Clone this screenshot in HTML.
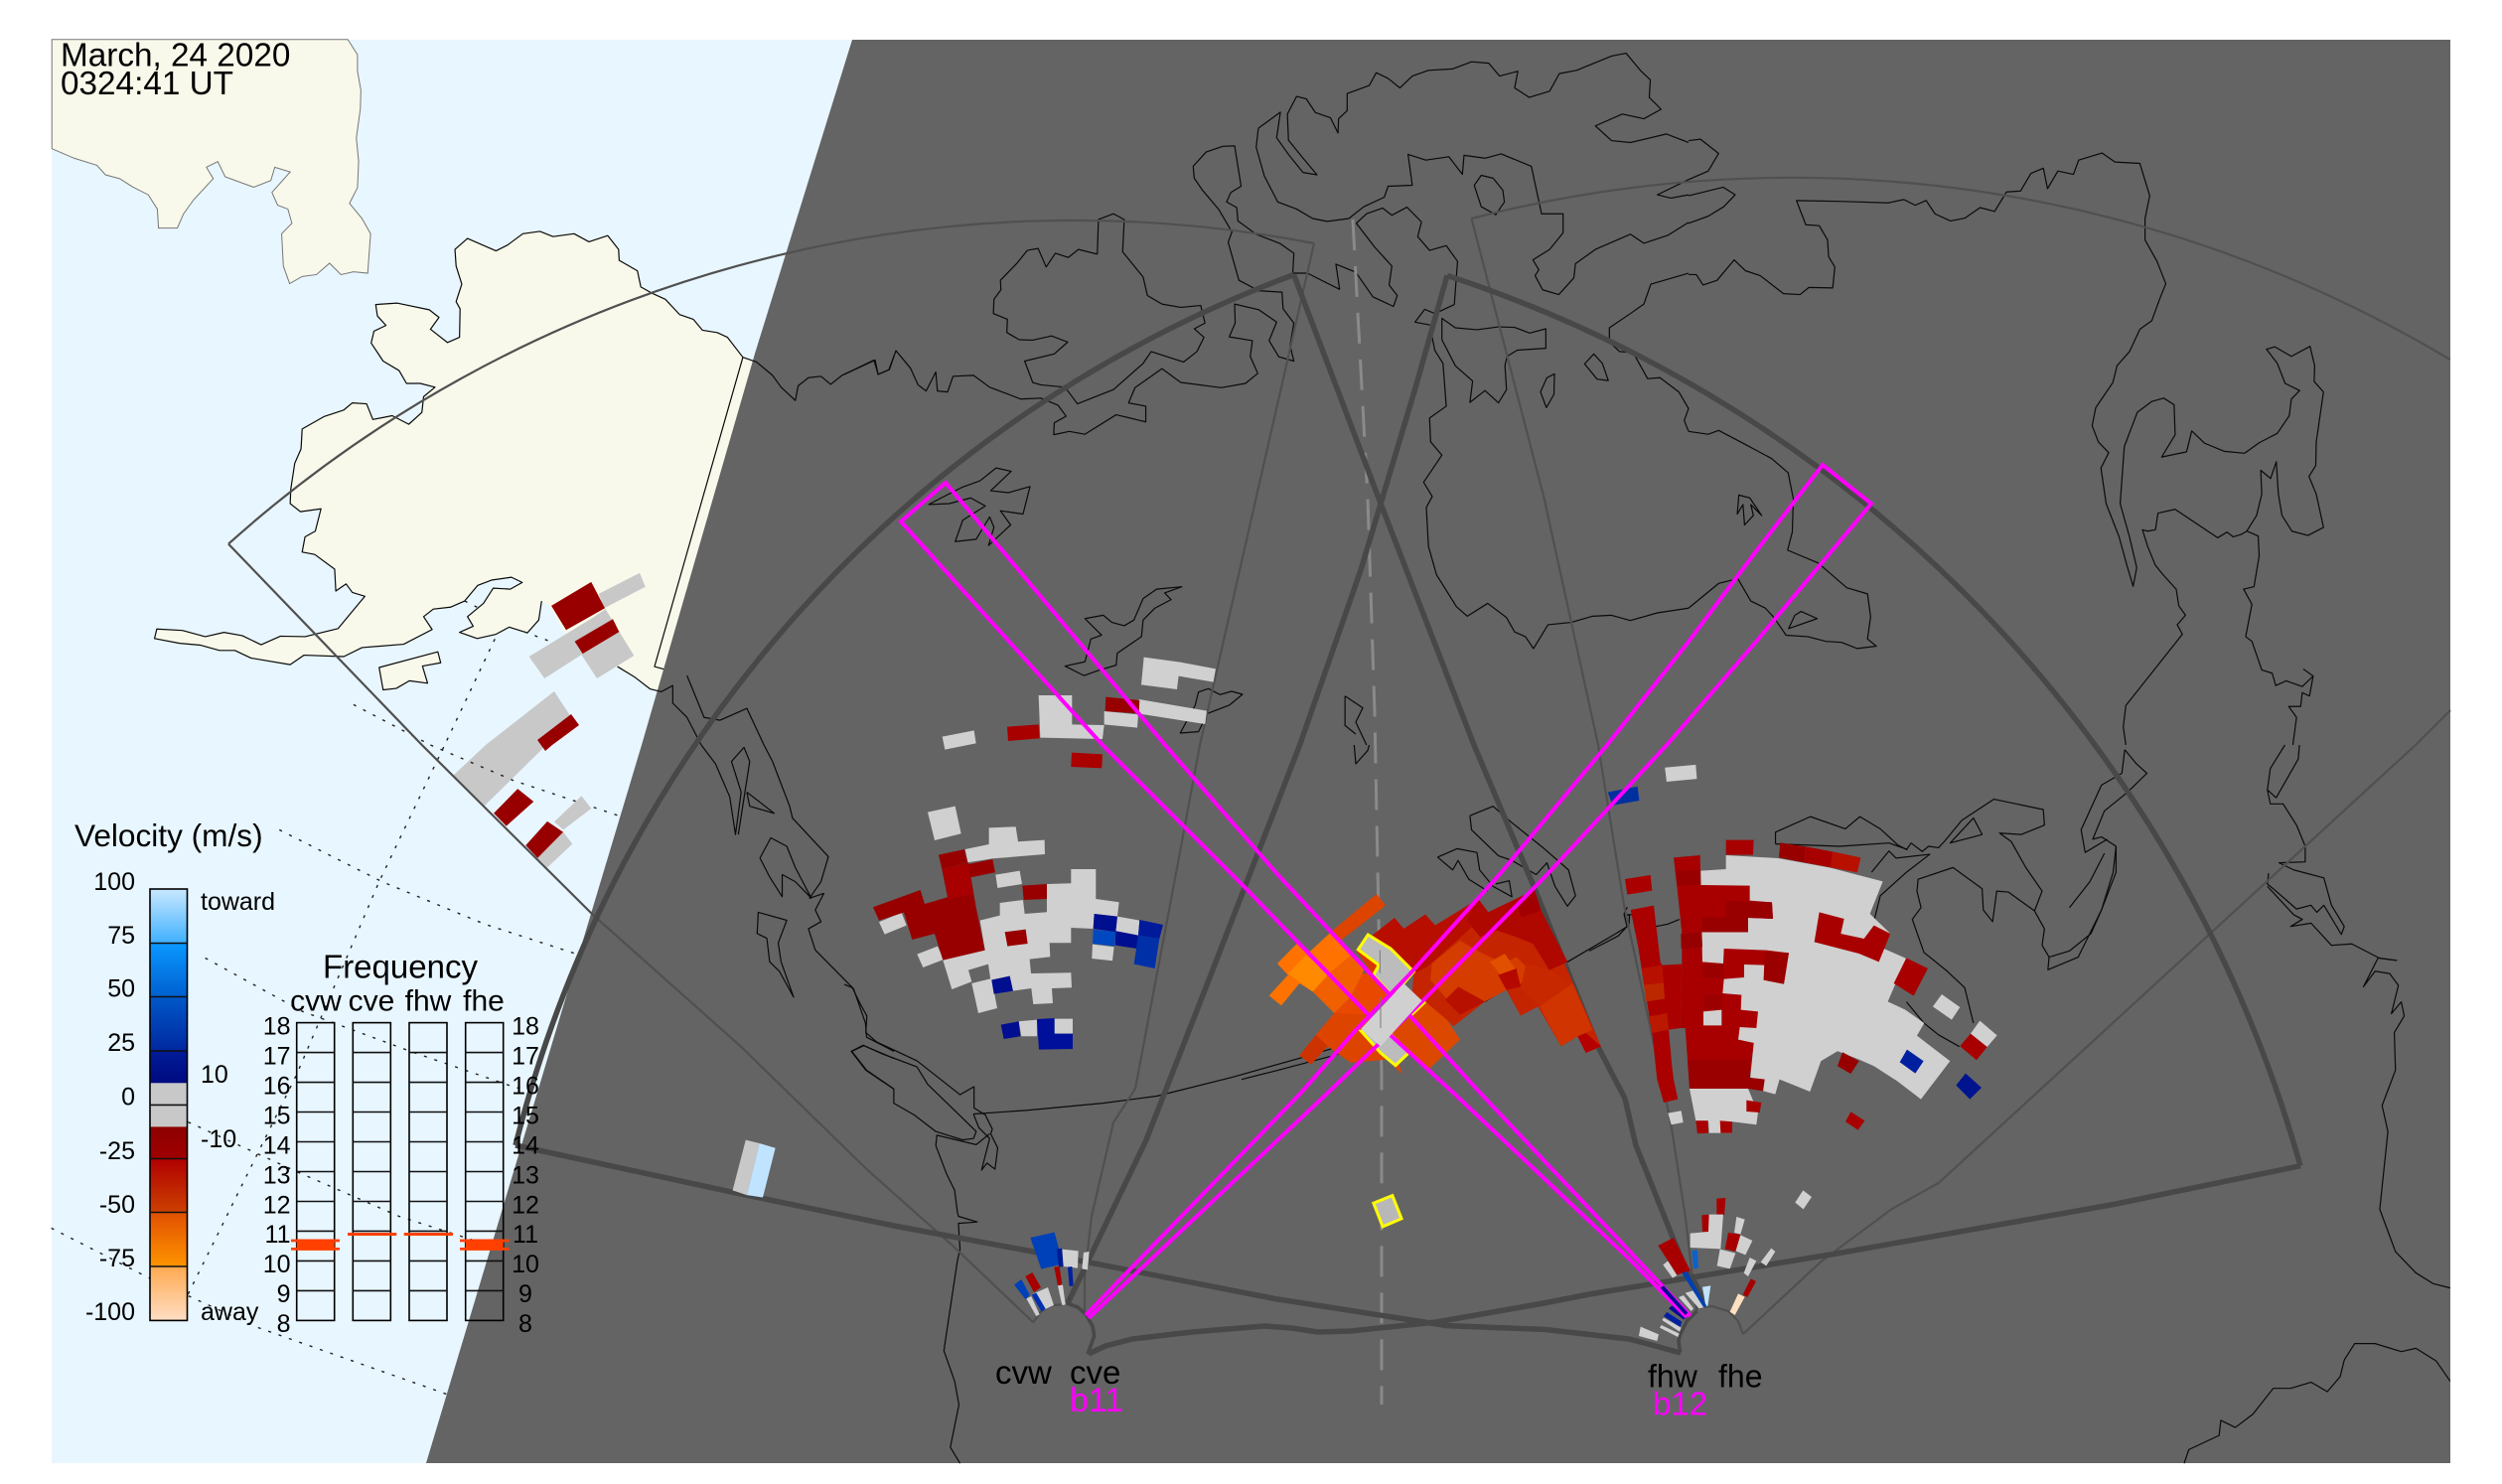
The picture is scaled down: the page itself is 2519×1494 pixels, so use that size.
<!DOCTYPE html>
<html><head><meta charset="utf-8"><style>
html,body{margin:0;padding:0;background:#fff}
svg{display:block}
text{font-family:"Liberation Sans",sans-serif;fill:#000}
.c{fill:none;stroke:#0a0a0a;stroke-width:1.2;stroke-linejoin:round;vector-effect:non-scaling-stroke}
.k{fill:none;stroke:#484848;stroke-width:5.5;stroke-linejoin:round;vector-effect:non-scaling-stroke}
.t{fill:none;stroke:#505050;stroke-width:2.2;stroke-linejoin:round;vector-effect:non-scaling-stroke}
.d{fill:none;stroke:#222;stroke-width:1.4;stroke-dasharray:3 8;vector-effect:non-scaling-stroke}
.m{fill:none;stroke:#ff00ff;stroke-width:4;stroke-linejoin:miter}
.y{stroke:#ffff00;stroke-width:3;vector-effect:non-scaling-stroke;stroke-linejoin:miter}
.tk{stroke:#111;stroke-width:1.6}
.b{fill:none;stroke:#000;stroke-width:1.6}
.w{fill:#d0d0d0}.g{fill:#c8c8c8}.r{fill:#a80000}.rd{fill:#980000}.n{fill:#000e90}.u{fill:#0030a8}
</style></head><body>
<svg width="2519" height="1494" viewBox="0 0 2519 1494" xmlns="http://www.w3.org/2000/svg">
<defs>
<linearGradient id="g1" x1="0" y1="0" x2="0" y2="1"><stop offset="0" stop-color="#c8e8ff"/><stop offset="1" stop-color="#40b0ff"/></linearGradient>
<linearGradient id="g2" x1="0" y1="0" x2="0" y2="1"><stop offset="0" stop-color="#0a98ff"/><stop offset="1" stop-color="#0060d0"/></linearGradient>
<linearGradient id="g3" x1="0" y1="0" x2="0" y2="1"><stop offset="0" stop-color="#0058c8"/><stop offset="1" stop-color="#0028a0"/></linearGradient>
<linearGradient id="g4" x1="0" y1="0" x2="0" y2="1"><stop offset="0" stop-color="#001c98"/><stop offset="1" stop-color="#000a80"/></linearGradient>
<linearGradient id="g5" x1="0" y1="0" x2="0" y2="1"><stop offset="0" stop-color="#8c0000"/><stop offset="1" stop-color="#a00000"/></linearGradient>
<linearGradient id="g6" x1="0" y1="0" x2="0" y2="1"><stop offset="0" stop-color="#b00000"/><stop offset="1" stop-color="#cc4000"/></linearGradient>
<linearGradient id="g7" x1="0" y1="0" x2="0" y2="1"><stop offset="0" stop-color="#e05000"/><stop offset="1" stop-color="#ff9400"/></linearGradient>
<linearGradient id="g8" x1="0" y1="0" x2="0" y2="1"><stop offset="0" stop-color="#ffa850"/><stop offset="1" stop-color="#ffdfc4"/></linearGradient>
</defs>
<rect x="52" y="40" width="2415" height="1433" fill="#e8f6ff"/>

<!-- day-side land and cells -->
<g transform="translate(0 0) scale(.574 .4783)">
<polygon fill="#f8f9ea" stroke="#777" stroke-width="1" vector-effect="non-scaling-stroke" points="91,83 610,83 627,115 627,150 633,190 632,230 625,290 629,340 627,395 613,428 635,460 650,492 645,575 620,572 598,578 578,554 555,578 530,582 508,597 497,560 494,492 512,470 505,440 487,432 477,405 509,362 482,352 475,380 445,394 395,372 382,340 362,352 374,376 340,420 322,450 311,480 278,480 276,440 260,410 232,393 210,376 185,368 170,348 130,333 91,313"/>
<polygon fill="#f8f9ea" points="820,502 870,528 890,516 917,492 947,487 970,498 1007,492 1033,509 1066,496 1085,525 1086,548 1118,570 1124,604 1145,618 1167,630 1192,662 1216,672 1232,695 1258,700 1276,710 1303,752 1340,765 1180,1460 1160,1456 1140,1450 1113,1425 1083,1403 1050,1390 1020,1375 990,1330 965,1278 950,1265 945,1305 925,1332 893,1320 870,1335 837,1344 806,1331 830,1318 820,1298 848,1270 865,1238 895,1240 916,1226 897,1215 862,1221 838,1232 815,1265 790,1278 760,1282 743,1298 758,1325 708,1356 635,1363 603,1382 533,1379 509,1399 440,1385 412,1369 385,1369 352,1358 315,1354 271,1344 275,1324 320,1327 360,1340 393,1331 425,1338 458,1357 492,1339 535,1340 593,1323 640,1255 618,1247 607,1229 589,1244 587,1198 552,1167 530,1162 535,1130 553,1118 563,1071 527,1077 509,1060 510,1030 517,975 528,945 530,903 568,877 603,863 618,848 643,850 654,883 688,875 717,893 740,868 743,835 763,815 737,807 713,807 700,780 672,760 651,722 656,697 677,685 662,665 659,641 697,638 753,652 770,668 755,693 785,721 806,710 807,650 800,635 810,598 800,560 798,525"/>
<polyline class="c" points="950,1265 945,1305 925,1332 893,1320 870,1335 837,1344 806,1331 830,1318 820,1298 848,1270 865,1238 895,1240 916,1226 897,1215 862,1221 838,1232 815,1265 790,1278 760,1282 743,1298 758,1325 708,1356 635,1363 603,1382 533,1379 509,1399 440,1385 412,1369 385,1369 352,1358 315,1354 271,1344 275,1324 320,1327 360,1340 393,1331 425,1338 458,1357 492,1339 535,1340 593,1323 640,1255 618,1247 607,1229 589,1244 587,1198 552,1167 530,1162 535,1130 553,1118 563,1071 527,1077 509,1060 510,1030 517,975 528,945 530,903 568,877 603,863 618,848 643,850 654,883 688,875 717,893 740,868 743,835 763,815 737,807 713,807 700,780 672,760 651,722 656,697 677,685 662,665 659,641 697,638 753,652 770,668 755,693 785,721 806,710 807,650 800,635 810,598 800,560 798,525 820,502 870,528 890,516 917,492 947,487 970,498 1007,492 1033,509 1066,496 1085,525 1086,548 1118,570 1124,604 1145,618 1167,630 1192,662 1216,672 1232,695 1258,700 1276,710 1303,752 1148,1403 1205,1422"/>
<polygon class="c" style="fill:#f8f9ea" points="665,1405 768,1372 773,1395 741,1402 750,1438 718,1433 695,1449 672,1452"/>
<polyline class="d" points="868,1345 780,1568"/>
<polyline class="d" points="620,1483 755,1568"/>
<polyline class="d" points="815,1265 840,1280"/>
<polyline class="d" points="920,1330 965,1350"/>
<polyline class="d" points="1325,745 1330,735"/>
<polygon class="g" points="1050,1250 1122,1206 1132,1235 1060,1280"/>
<polygon class="g" points="928,1382 1040,1300 1062,1282 1112,1380 1047,1428 1020,1378 955,1428"/>
<polygon class="rd" points="967,1275 1037,1225 1061,1280 993,1326"/>
<polygon class="rd" points="1008,1350 1075,1303 1086,1330 1022,1376"/>
</g>
<polygon class="g" points="558,696 489,750 456,781 488,811 545,755 575,722"/>
<polygon class="rd" points="575,719 583,730 556,750 549,756 541,745"/>
<g transform="translate(0 750) scale(.574 .4745)">
<polyline class="d" points="490,180 670,290 850,380 1010,443"/>
<polyline class="d" points="360,452 530,565 720,650 900,725 960,745"/>
<polyline class="d" points="330,800 520,905 700,1000 880,1070"/>
<polyline class="d" points="90,1025 260,1130 450,1235 785,1378"/>
<polyline class="d" points="330,1165 520,700 665,290 760,50 780,0"/>
<polyline class="d" points="755,0 900,75 1085,150"/>
<polygon class="rd" points="908,93 936,120 888,172 866,145"/>
<polygon class="g" points="1020,108 1037,135 988,180 972,163"/>
<polygon class="rd" points="960,162 988,185 943,240 922,213"/>
<polygon class="g" points="988,185 1004,210 960,260 943,240"/>
</g>

<!-- night -->
<polygon fill="#646464" points="858,40 2467,40 2467,1473 429,1473 646,750 760,356"/>

<!-- coast lines on night side -->
<g transform="translate(0 0) scale(.574 .4783)">
<polyline class="c" points="1303,752 1327,762 1355,790 1370,815 1395,843 1400,812 1418,795 1440,792 1457,809 1477,790 1535,758 1540,788 1560,778 1568,750"/>
<polyline class="c" points="1083,1403 1113,1425 1140,1450 1160,1456 1180,1443 1180,1480 1205,1510 1230,1568"/>
<polyline class="c" points="1205,1422 1235,1510 1263,1516 1310,1491 1340,1568"/>
</g>
<g transform="translate(0 750) scale(.574 .4745)">
<polyline class="c" points="1230,0 1255,40 1280,110 1290,190 1300,100 1283,35 1305,5 1315,35 1295,190"/>
<polyline class="c" points="1340,0 1355,35 1385,130 1390,155 1453,237 1440,290 1420,325 1445,315 1430,350 1440,375 1418,390 1430,435 1497,517 1518,590 1520,620 1568,650"/>
<polyline class="c" points="1310,100 1358,145 1315,130 1310,100"/>
<polygon class="c" points="1352,197 1380,215 1395,260 1423,325 1395,290 1372,275 1372,322 1350,280 1333,240"/>
<polygon class="c" points="1330,355 1380,372 1365,420 1370,460 1392,535 1367,480 1350,460 1345,410 1328,400"/>
<polyline class="c" points="1568,665 1515,638 1494,650 1520,690 1568,730"/>
</g>
<g transform="translate(850 0) scale(.5421 .4783)">
<polyline class="c" points="0,788 55,758 63,788 83,778 96,738 123,775 137,810 152,823 170,783 173,823 192,825 202,792 240,790 270,815 328,840 365,838 397,853 412,876 390,890 389,915 418,908 447,914 505,873 560,888 560,855 528,848 540,816 590,776 625,805 700,816 745,807 768,786 754,750 758,717 715,709 726,680 725,640 770,652 803,678 789,717 807,751 835,760 828,727 835,680 815,650 813,615 770,612 733,590 713,510 720,488 695,440 665,400 650,375 648,350 672,320 703,308 725,307 737,392 718,405 710,425 729,437 731,465 765,493 810,513 835,533 833,575 860,575 920,609 913,556 950,573 982,625 1020,645 1027,622 1012,600 1017,560 985,520 951,470 970,450 1000,438 1017,453 1045,436 1072,467 1065,498 1087,527 1118,517 1139,550 1133,641 1097,660 1090,700 1097,738 1112,765 1118,855 1087,880 1089,930 1110,958 1076,1015 1092,1045 1081,1068 1085,1150 1100,1210 1137,1277 1157,1297 1195,1270 1230,1300 1245,1330 1265,1340 1280,1365 1307,1315 1350,1310 1390,1297 1425,1295 1460,1306 1510,1290 1568,1280"/>
<polyline class="c" points="470,535 472,462 500,450 520,462 517,530 555,583 563,622 590,640 625,647 662,643 670,680 650,692 668,710 655,740 630,762 570,740 555,765 500,820 433,850 410,815 365,810 350,805 335,760 390,745 415,720 385,707 350,716 325,715 302,700 303,672 277,660 278,630 291,610 290,590 320,555 340,527 360,523 375,562 392,533 416,542 435,525 470,535"/>
<polyline class="c" points="769,270 810,236 803,290 825,325 852,363 878,368 850,330 825,295 823,240 840,203 858,208 875,237 903,248 917,280 918,250 934,233 934,197 975,180 988,153 1010,165 1032,185 1055,160 1085,148 1130,145 1165,130 1197,133 1217,160 1251,150 1245,185 1272,205 1310,192 1328,155 1360,148 1425,118 1452,112 1480,150 1497,168 1495,205 1517,230 1485,250 1445,240 1395,265 1425,296 1460,300 1527,282 1568,300"/>
<polyline class="c" points="769,270 765,310 780,370 805,425 840,440 870,460 897,466 937,460 965,435 1003,415 1010,392 1055,390 1047,325 1080,337 1123,330 1148,367 1151,327 1190,333 1220,324 1276,350 1295,450 1335,450 1335,490 1310,525 1279,547 1290,568 1283,580 1297,610 1327,620 1355,585 1358,555 1395,525 1460,493 1485,512 1530,495 1568,468"/>
<polyline class="c" points="1568,378 1510,410 1535,417 1568,410"/>
<polyline class="c" points="1568,575 1498,598 1485,640 1460,660 1421,690 1421,720 1440,740 1465,742 1492,797 1515,795 1550,825 1568,860 1560,885 1568,908"/>
<polygon class="c" points="1375,766 1392,745 1408,765 1419,801 1398,798"/>
<polygon class="c" points="1293,825 1305,795 1319,787 1318,830 1304,858"/>
<polyline class="c" points="1097,660 1078,651 1060,678 1088,684"/>
<polygon class="c" points="1110,670 1135,690 1175,694 1215,688 1245,689 1273,701 1303,692 1303,733 1250,737 1231,750 1227,770 1230,820 1215,848 1190,822 1162,847 1167,802 1135,770 1110,715"/>
<polygon class="c" points="1170,390 1183,369 1205,375 1223,400 1226,425 1210,452 1183,435"/>
<polygon class="c" points="157,1062 180,1048 220,1025 252,1012 282,985 310,992 272,1033 305,1037 345,1024 332,1082 290,1075 309,1105 268,1148 278,1110 270,1088 245,1135 206,1140 220,1095 262,1065 235,1048 195,1060"/>
<polygon class="c" points="447,1302 481,1295 497,1310 520,1317 538,1305 555,1260 580,1240 627,1235 595,1248 607,1262 577,1280 555,1305 552,1340 507,1375 505,1400 470,1412 445,1422 410,1402 447,1393 458,1345 478,1337"/>
<polyline class="c" points="930,1465 963,1490 950,1520 970,1568"/>
<polyline class="c" points="930,1465 930,1527 950,1545"/>
</g>
<g transform="translate(860 630) scale(.3333)">
<polygon class="c" points="1040,200 1070,190 1105,208 1140,198 1173,207 1133,240 1067,265 1040,320 985,324 1030,240"/>
</g>
<g transform="translate(1700 0) scale(.5223 .4783)">
<polyline class="c" points="0,378 38,360 58,323 23,293 0,296"/>
<polyline class="c" points="0,412 67,394 90,410 68,435 38,455 0,470"/>
<polyline class="c" points="0,578 15,578 28,600 55,590 88,547 110,570 138,580 183,618 215,620 232,605 278,606 282,562 270,540 268,505 252,475 226,473 208,422 300,424 385,427 415,420 437,432 458,422 475,450 505,465 533,459 562,437 590,445 613,404 640,402 660,365 684,354 692,397 712,360 742,367 752,337 797,322 822,341 870,344 889,412 880,460 880,505 903,550 920,597 908,630 893,675 870,693 850,740 826,770 818,805 785,858 778,896 790,930 810,953 795,985 805,1060 830,1130 845,1190 857,1234 864,1195 850,1130 832,1060 840,940 865,868 893,845 916,838 936,852 938,915 912,962 960,951 970,907 995,933 1033,950 1072,954 1100,932 1135,912 1158,875 1162,840 1178,822 1150,807 1135,765 1114,735 1130,730 1162,750 1198,729 1207,770 1206,803 1224,825 1210,930 1209,980 1196,1003 1210,1040 1224,1110 1194,1127 1163,1118 1144,1085 1137,1040 1133,972 1122,1007 1103,990 1105,1040 1095,1085 1076,1118 1098,1128 1100,1170 1090,1235 1070,1240 1086,1272 1074,1340 1086,1350 1105,1410 1125,1417 1132,1443 1152,1433 1183,1445 1204,1423 1185,1408"/>
<polyline class="c" points="1204,1423 1197,1465 1183,1458 1180,1487 1157,1487 1172,1510 1165,1568"/>
<polyline class="c" points="1076,1118 1065,1125 1050,1130 1038,1120 1020,1132 938,1072 905,1080 900,1115 885,1118 875,1115 885,1150 900,1190 915,1210 940,1240 945,1275 958,1295 942,1315 952,1335 843,1485 838,1530 843,1568"/>
<polyline class="c" points="0,908 38,914 58,906 100,930 160,965 192,995 202,1050 200,1120 191,1158 250,1185 305,1237 345,1250 351,1298 345,1345 362,1360 325,1365 295,1352 265,1350 230,1340 188,1337 165,1300 148,1280 120,1265 95,1218 58,1228 0,1280"/>
<polygon class="c" points="97,1042 118,1048 141,1085 120,1062 125,1085 108,1105 105,1062 94,1082"/>
<polygon class="c" points="193,1323 205,1295 217,1287 248,1302"/>
</g>
<g transform="translate(850 750) scale(.5421 .4745)">
<polyline class="c" points="975,0 972,12 950,40 947,0"/>
<polyline class="c" points="0,508 15,515 30,550 42,575 40,610 60,630 135,670 215,742 241,725 241,770 262,785 275,815 272,825 285,855 280,900 265,887 255,902 270,835 250,812 240,783"/>
<polygon class="c" points="13,650 35,637 70,655 135,683 155,720 200,770 245,820 240,835 220,838 170,820 130,785 92,760 92,730 40,690"/>
<polyline class="c" points="270,825 245,848 172,828 170,850 190,910 205,945 210,990 212,1000 247,1012 212,1015 215,1070 210,1095 185,1285 205,1350 213,1400 197,1490 215,1524"/>
<polyline class="c" points="240,783 340,775 480,760 580,745 720,705 860,660 975,620"/>
<polyline class="c" points="1162,150 1205,130 1240,165 1300,220 1345,265 1358,320 1343,342 1320,300 1305,250 1285,275 1240,245 1215,235 1165,180 1162,150"/>
<polyline class="c" points="1102,238 1138,220 1175,228 1180,265 1205,300 1240,322 1235,288 1210,295"/>
<polyline class="c" points="1102,238 1130,265 1140,245 1160,285 1195,310"/>
</g>
<g transform="translate(1250 880) scale(.3333)">
<polyline class="c" points="0,620 100,595 270,550 380,515"/>
<polyline class="c" points="735,385 800,345 985,265 1130,180 1170,155 1172,125 1155,120"/>
<polyline class="c" points="1155,120 1165,100"/>
</g>
<g transform="translate(1600 750) scale(.5861 .4745)">
<polyline class="c" points="0,437 50,405 65,385 60,360 75,360 115,385 135,380 155,370"/>
<polyline class="c" points="320,210 320,185 380,152 440,178 465,152 500,178 530,212 545,222 553,208 572,226 583,215 600,218 610,205 640,160 695,115 780,137 782,170 742,190 705,187 725,205 750,260 778,310 765,352 720,312 700,310 693,375 677,350 675,305 625,260 565,285 563,310 570,345 555,370 575,440 615,480 645,515 660,590"/>
<polyline class="c" points="320,210 430,215 515,208 547,222"/>
<polyline class="c" points="485,270 515,225 527,240 585,232 545,270 500,320 490,370"/>
<polygon class="c" points="620,208 660,155 675,190"/>
<polyline class="c" points="545,545 575,590 600,615 636,640"/>
<polyline class="c" points="765,352 782,390 778,425 790,450 825,437 862,400 880,350 905,270 905,215 880,195 865,200 885,140 925,100 958,60 940,40 920,10"/>
<polyline class="c" points="920,10 915,60 880,85 845,180 852,228 890,200"/>
<polyline class="c" points="790,450 788,477 840,450 880,350 900,270 905,215"/>
<polyline class="c" points="825,345 860,290 885,230"/>
<polyline class="c" points="1195,0 1170,50 1165,95 1180,112 1218,30 1220,0"/>
<polyline class="c" points="1165,95 1170,125 1192,125 1215,170 1230,215 1230,248 1185,250 1210,265 1262,282 1275,340 1297,385 1292,402 1262,340 1250,355 1240,340 1215,348 1175,305 1165,295 1167,272"/>
<polyline class="c" points="1165,300 1210,360 1225,370 1205,385 1240,378 1275,425 1310,422 1357,452 1387,457 1355,452 1330,513 1350,480 1375,485 1390,510 1378,570 1395,545 1400,575 1383,610 1385,690 1362,765 1372,820 1358,985 1385,1075 1420,1120 1450,1143 1479,1152"/>
<polyline class="c" points="1022,1524 1030,1495 1082,1465 1085,1433 1110,1448 1140,1420 1175,1365 1205,1365 1240,1352 1268,1372 1290,1340 1297,1305 1315,1270 1350,1270 1395,1287 1420,1280 1455,1307 1479,1350"/>
</g>

<!-- dashed centre -->
<polyline fill="none" stroke="#8a8a8a" stroke-width="3" stroke-dasharray="31 16" points="1362,221 1377,502 1384,717 1391,1082 1391,1414"/>

<!-- FOV lines (real coordinates) -->
<path class="t" d="M230,547.6 A1275,1275 0 0 1 1323,245"/>
<polyline class="t" points="230,547.6 424.8,750 597,921 746,1053.7 872.5,1177 920.5,1219.8 958,1253 1040,1331"/>
<polyline class="t" points="1323,245 1208,750 1186,868.6 1143,1096 1121,1130 1099,1224.5 1092,1286 1092,1324"/>
<path class="t" d="M1481.5,220 A1288,1288 0 0 1 2466.7,362"/>
<polyline class="t" points="1481.5,220 1554.7,502 1609,750 1635,911 1682,1129.6 1696.7,1224.5 1704,1286 1708.4,1322"/>
<polyline class="t" points="1755,1343 1834,1269.6 1904.8,1217 1951.7,1191 2432,750 2467,715"/>
<path class="k" d="M519,1153 A1264,1264 0 0 1 1302.6,276.5"/>
<polyline class="k" points="519,1153 740,1200.8 900,1234 1039.7,1260 1121,1275.7 1283.7,1307.5 1457,1334.6 1554.7,1338.4 1640,1348 1666.7,1355 1692,1362"/>
<polyline class="k" points="1302.6,276.5 1392,512 1484,750 1544,892 1609,1054 1636,1106 1647,1153 1685,1248 1700,1284 1708,1300"/>
<path class="k" d="M1457,277.4 A1320,1320 0 0 1 2316,1173.7"/>
<polyline class="k" points="1457,277.4 1424.6,392 1370,574 1308.6,750 1218.6,982.5 1153.6,1148.6 1075,1312"/>
<polyline class="k" points="2316,1173.7 2127.5,1212.6 1846,1262.5 1600,1303 1554,1312 1446,1331 1360,1340 1327,1341 1300,1337 1273,1335 1200,1341 1140,1348 1113,1355 1096,1363"/>
<g transform="translate(0 750) scale(.574 .4745)">
<polygon points="1308,838 1332,845 1310,955 1285,945" fill="#c8c8c8"/>
<polygon points="1332,845 1360,855 1338,960 1310,955" fill="#c0e4ff"/>
</g>
<g transform="translate(980 1190) scale(.3333)">
<polyline class="t" points="180,425 205,390 240,372 270,370"/>
<polyline fill="none" stroke="#484848" stroke-width="3.6" vector-effect="non-scaling-stroke" points="280,365 315,378 340,400 360,435 365,465 345,520"/>
</g>
<g transform="translate(1640 1180) scale(.3333)">
<polyline class="t" points="205,410 250,405 300,420 330,450 345,490"/>
<polyline fill="none" stroke="#484848" stroke-width="3.6" vector-effect="non-scaling-stroke" points="205,420 175,450 155,490 150,510 155,545"/>
<polyline fill="none" stroke="#484848" stroke-width="4" vector-effect="non-scaling-stroke" points="190,310 205,340 235,405"/>
</g>

<!-- West blob -->
<g transform="translate(860 630) scale(.3333)">
<polygon class="w" points="875,95 985,110 1092,130 1085,170 980,152 975,192 867,178"/>
<polygon class="w" points="860,222 1065,257 1060,297 858,265"/>
<polygon class="w" points="557,210 658,210 658,298 755,300 750,342 562,338"/>
<polygon class="w" points="755,258 858,268 855,308 755,298"/>
<polygon class="w" points="266,335 362,316 368,355 274,374"/>
<polygon class="w" points="222,563 305,545 323,628 243,648"/>
<polygon class="w" points="335,675 407,660 407,610 488,607 495,652 575,647 576,690 495,697 420,703 343,715"/>
<polygon class="w" points="427,752 500,740 507,780 433,792"/>
<polygon class="w" points="75,895 143,866 158,905 92,932"/>
<polygon class="w" points="190,992 252,968 270,1008 208,1032"/>
<polygon class="w" points="380,890 440,875 440,837 510,828 515,870 582,865 582,780 655,778 655,735 730,735 730,825 800,835 795,878 725,870 722,915 655,912 655,958 590,958 592,1000 530,1007 534,1050 655,1048 657,1093 597,1095 600,1140 541,1143 535,1095 478,1103 470,1058 412,1070 405,1022 345,1040 355,1075 295,1098 268,1010 395,980"/>
<polygon class="w" points="355,1080 415,1065 432,1155 375,1170"/>
<polygon class="w" points="795,878 862,890 858,935 790,922"/>
<polygon class="w" points="720,962 785,970 780,1012 718,1005"/>
<polygon class="w" points="497,1195 552,1190 552,1240 505,1240"/>
<polygon class="w" points="605,1187 660,1187 660,1232 605,1232"/>
<polygon class="rd" points="255,692 333,675 343,715 265,735"/>
<polygon fill="#980000" points="265,735 345,715 368,850 395,980 268,1010 243,930 175,948 150,866 75,890 57,850 200,798 213,840 282,820"/>
<polygon class="r" points="268,735 345,718 357,810 285,825"/>
<polygon class="rd" points="345,720 418,705 426,745 352,760"/>
<polygon class="rd" points="508,785 582,780 582,825 512,828"/>
<polygon class="rd" points="455,925 518,917 524,960 463,968"/>
<polygon class="r" points="462,305 557,298 560,340 465,348"/>
<polygon class="rd" points="760,215 862,225 860,265 758,258"/>
<polygon fill="#aa0000" points="657,383 750,388 748,430 655,426"/>
<polygon class="n" points="725,870 795,878 790,925 722,915"/>
<polygon fill="#0048c0" points="722,917 790,925 786,968 720,960"/>
<polygon class="n" points="790,922 858,935 855,975 788,965"/>
<polygon fill="#001a9a" points="862,888 933,903 922,945 858,935"/>
<polygon class="u" points="858,935 922,945 908,1035 845,1022"/>
<polygon class="n" points="415,1070 470,1058 480,1103 422,1112"/>
<polygon class="n" points="443,1205 497,1195 502,1240 452,1248"/>
<polygon fill="#00109a" points="552,1188 605,1185 605,1232 660,1232 660,1278 558,1280"/>
</g>

<!-- centre blob -->
<g transform="translate(1250 880) scale(.3333)">
<polygon fill="#c42400" points="395,185 462,132 490,165 555,122 585,155 715,75 745,115 885,48 905,110 1086,520 1040,540 1015,490 965,520 895,400 843,428 800,350 735,385 640,460 620,440 510,430 520,300 450,225"/>
<polygon fill="#b80e00" points="395,185 462,132 490,165 555,122 585,155 715,75 745,115 640,210 560,280 520,300 450,225"/>
<polygon fill="#ae0800" points="715,75 745,115 885,48 905,110 985,265 930,290 880,210 830,190 770,170 720,190 680,140"/>
<polygon fill="#a20000" points="830,85 885,48 905,110 845,130"/>
<polygon fill="#d43c00" points="575,270 660,200 700,225 790,270 830,250 880,300 830,340 800,350 735,385 640,400 570,320"/>
<polygon fill="#e05000" points="750,265 795,240 830,290 790,315"/>
<polygon fill="#b81000" points="655,340 735,385 660,425 615,380"/>
<polygon fill="#b40800" points="775,305 830,285 843,340 800,350"/>
<polygon fill="#d03400" points="900,400 1000,330 1060,470 1015,490 965,520"/>
<polygon fill="#c82800" points="860,270 930,290 1000,330 900,400 843,345"/>
<polygon fill="#b40000" points="1040,480 1086,520 1040,540 1015,490"/>
<polygon fill="#dd4800" points="510,430 555,385 620,440 660,500 565,590 505,540 450,483"/>
<polygon fill="#dd4400" points="275,170 408,60 435,95 365,150 300,200"/>
<polygon fill="#dd4400" points="175,548 225,485 280,420 330,370 390,425 450,483 485,605 440,560 330,570 260,520 210,575"/>
<polygon fill="#cc3300" points="175,548 225,485 260,520 210,575"/>
<polygon fill="#e84800" points="280,420 330,370 270,300 390,300 450,365 390,425"/>
<polygon fill="#ff7200" points="108,270 170,207 205,235 270,175 335,240 280,300 215,355 175,330 120,397 83,367 140,305"/>
<polygon fill="#ff8a00" points="140,300 195,245 265,300 215,355"/>
<polygon fill="#f06000" points="215,355 265,300 330,245 370,290 330,370 280,420"/>
<polygon fill="#d83800" points="345,230 380,225 415,275 398,305"/>
<polygon fill="#bcbcbc" class="y" points="382,183 352,228 415,275 398,305 450,362 485,335 520,295 450,225"/>
<polygon fill="#bcbcbc" class="y" points="362,475 420,540 465,578 505,540 450,483"/>
<polyline class="y" fill="none" points="350,465 385,428"/>
<polyline class="y" fill="none" points="510,428 555,385"/>
</g>

<!-- East blob -->
<g transform="translate(1630 840) scale(.3333)">
<polygon class="w" points="247,110 323,105 323,63 480,72 635,100 797,142 758,240 820,300 800,345 868,375 812,505 865,530 922,570 900,608 1000,685 912,800 840,745 770,700 725,680 660,655 610,685 577,777 485,740 472,785 435,775 397,733 407,630 360,620 250,385 250,295"/>
<polygon class="w" points="213,768 390,768 420,840 415,877 342,868 342,902 305,902 272,902 270,865 232,865"/>
<polygon class="r" points="323,17 407,17 405,62 323,62"/>
<polygon class="rd" points="487,25 565,37 560,85 483,70"/>
<polygon class="r" points="565,37 645,52 640,100 560,85"/>
<polygon fill="#b81000" points="645,52 730,70 720,115 640,100"/>
<polygon fill="#aa0000" points="18,135 95,123 100,170 25,182"/>
<polygon fill="#aa0000" points="35,228 105,215 125,385 130,395 190,392 185,585 150,590 160,700 165,740 178,800 135,810 115,740 100,600 75,450 58,340"/>
<polygon fill="#b81000" points="68,405 130,395 135,448 75,455"/>
<polygon fill="#bb2800" points="75,455 135,448 138,497 82,505"/>
<polygon fill="#bb1800" points="90,550 145,540 150,590 100,600"/>
<polygon fill="#a80000" points="165,70 245,63 247,153 395,155 395,200 462,205 465,255 390,252 388,295 250,295 252,385 315,390 317,345 445,350 513,358 498,452 437,440 440,395 378,393 378,432 317,437 313,480 370,485 368,530 420,535 415,585 365,582 360,620 407,630 395,735 440,740 435,775 390,768 213,768 207,680 200,585 185,585 190,392 190,300 175,155"/>
<polygon fill="#980000" points="170,110 245,108 247,153 175,155"/>
<polygon fill="#960000" points="187,300 250,295 252,340 188,345"/>
<polygon fill="#9a0000" points="255,390 315,390 317,435 253,430"/>
<polygon fill="#9c0000" points="255,485 313,483 310,530 255,530"/>
<polygon fill="#980000" points="322,200 462,205 465,255 390,252 390,295 252,295 250,250 322,250"/>
<polygon fill="#9a0000" points="207,680 395,680 395,735 440,740 435,775 390,768 213,768"/>
<polygon fill="#9a0000" points="440,355 513,358 498,452 437,440"/>
<polygon class="w" points="255,535 310,530 310,577 255,577"/>
<polygon class="w" points="232,865 270,865 305,865 342,868 342,835 232,835"/>
<polygon class="r" points="232,865 268,865 270,902 237,904"/>
<polygon class="r" points="305,865 342,868 342,902 307,902"/>
<polygon class="r" points="605,235 680,255 670,300 740,315 770,275 820,300 785,385 725,360 590,325"/>
<polygon class="r" points="868,373 933,405 890,488 830,450"/>
<polygon class="rd" points="675,658 725,685 700,723 660,700"/>
<polygon class="r" points="700,838 742,865 722,893 684,868"/>
<polygon class="r" points="385,803 430,810 425,840 385,837"/>
<polygon class="w" points="148,842 188,835 194,870 158,877"/>
<polygon class="w" points="975,483 1030,522 1005,560 948,520"/>
<polygon class="w" points="1090,563 1142,607 1112,642 1062,602"/>
<polygon class="r" points="1062,602 1112,642 1080,682 1030,640"/>
<polygon fill="#0020a0" points="870,650 920,685 895,722 848,688"/>
<polygon fill="#001490" points="1047,722 1095,765 1060,800 1018,758"/>
</g>
<g transform="translate(1600 750) scale(.5861 .4745)">
<polygon class="w" points="130,48 183,42 185,72 133,78"/>
<polygon fill="#0030a0" points="32,100 83,88 86,118 40,128"/>
</g>

<!-- radar near cells -->
<g transform="translate(980 1190) scale(.3333)">
<polygon fill="#0040b8" points="172,168 245,152 258,200 258,250 205,263"/>
<polygon fill="#001a90" points="252,203 268,200 272,255 258,257"/>
<polygon class="w" points="268,203 317,208 315,260 272,255"/>
<polygon class="w" points="333,213 350,210 345,265 328,262"/>
<polygon class="r" points="244,257 260,255 268,310 255,313"/>
<polygon class="w" points="255,313 270,310 278,370 268,372"/>
<polygon fill="#0020a0" points="285,257 298,255 302,313 290,315"/>
<polygon class="r" points="157,285 178,273 204,318 183,333"/>
<polygon fill="#0040b8" points="123,310 145,294 170,340 158,355"/>
<polygon class="w" points="175,340 225,318 243,372 215,385"/>
<polygon class="w" points="160,352 175,345 200,400 190,405"/>
<polygon fill="#0030b0" points="176,340 190,335 218,383 206,392"/>
</g>
<g transform="translate(1640 1180) scale(.3333)">
<polygon class="r" points="265,80 292,78 288,130 265,128"/>
<polygon class="w" points="240,128 285,128 277,232 185,228 185,185 240,180"/>
<polygon class="r" points="220,130 242,128 240,180 222,180"/>
<polygon class="w" points="325,135 350,143 337,188 318,183"/>
<polygon class="w" points="337,190 373,207 352,250 322,238"/>
<polygon class="w" points="275,233 322,245 305,292 266,283"/>
<polygon class="r" points="300,183 337,188 322,240 290,232"/>
<polygon fill="#1060c8" points="190,237 207,235 210,290 195,292"/>
<polygon class="w" points="118,268 145,312 132,320 103,280"/>
<polygon class="r" points="88,222 135,198 186,298 145,310"/>
<polygon class="w" points="365,258 385,268 360,315 347,305"/>
<polygon class="w" points="430,230 442,240 415,283 398,272"/>
<polygon class="w" points="526,55 552,75 527,112 502,92"/>
<polygon class="w" points="170,365 205,355 228,408 212,412"/>
<polygon fill="#c0e4ff" points="222,347 247,343 238,405 232,405"/>
<polygon fill="#0040b0" points="160,305 175,300 235,405 225,408"/>
<polygon class="w" points="150,378 165,372 195,412 188,420"/>
<polygon class="n" points="120,412 130,403 175,440 165,445"/>
<polygon fill="#0020a0" points="105,435 115,423 160,452 155,468"/>
<polygon class="w" points="100,447 105,440 158,470 153,482"/>
<polygon class="w" points="93,470 98,462 152,488 148,498"/>
<polygon class="w" points="35,467 90,490 85,510 30,495"/>
<polygon fill="#ffe0c0" points="330,367 350,377 320,432 305,422"/>
<polygon class="r" points="368,322 384,330 358,378 344,370"/>
</g>

<!-- magenta beams -->
<polyline class="m" points="1093,1324 1310,1100 1365,1037 1420,980 1510,880 1618,750 1700,646 1768,555 1835,468 1884,507 1768,646 1678,750 1558,880 1432,1008 1387,1052 1337,1100 1096,1327"/>
<polyline class="m" points="1698,1326 1640,1267 1463,1100 1378,1022 1250,890 1110,750 907,525 952,486 1173,750 1286,880 1340,938 1398,1000 1420,1023 1490,1100 1640,1259 1702,1325"/>
<g transform="translate(1640 1180) scale(.3333)"><polygon class="n" points="95,350 105,343 178,425 170,432"/></g>

<!-- centre white cell on top of beams -->
<g transform="translate(1250 880) scale(.3333)">
<polygon fill="#d0d0d0" points="360,468 490,330 545,382 420,520"/>
<line x1="418" y1="230" x2="418" y2="300" stroke="#777" stroke-width="1" vector-effect="non-scaling-stroke"/>
<line x1="420" y1="370" x2="420" y2="465" stroke="#777" stroke-width="1" vector-effect="non-scaling-stroke"/>
</g>
<g transform="translate(850 750) scale(.5421 .4745)">
<polygon fill="#b8b8b8" class="y" points="983,972 1018,956 1035,1005 1000,1022"/>
</g>

<!-- colour bar -->
<rect x="151" y="895" width="37.5" height="54.5" fill="url(#g1)"/>
<rect x="151" y="949.5" width="37.5" height="54" fill="url(#g2)"/>
<rect x="151" y="1003.5" width="37.5" height="54.5" fill="url(#g3)"/>
<rect x="151" y="1058" width="37.5" height="32.4" fill="url(#g4)"/>
<rect x="151" y="1090.4" width="37.5" height="44" fill="#c8c8c8"/>
<rect x="151" y="1134.4" width="37.5" height="32.1" fill="url(#g5)"/>
<rect x="151" y="1166.5" width="37.5" height="54" fill="url(#g6)"/>
<rect x="151" y="1220.5" width="37.5" height="54.5" fill="url(#g7)"/>
<rect x="151" y="1275" width="37.5" height="54.4" fill="url(#g8)"/>
<rect x="151" y="895" width="37.5" height="434.4" class="b" stroke-width="1.2"/>
<g class="tk">
<line x1="151" x2="188.5" y1="949.5" y2="949.5"/><line x1="151" x2="188.5" y1="1003.5" y2="1003.5"/><line x1="151" x2="188.5" y1="1058" y2="1058"/><line x1="151" x2="188.5" y1="1112.4" y2="1112.4"/><line x1="151" x2="188.5" y1="1166.5" y2="1166.5"/><line x1="151" x2="188.5" y1="1220.5" y2="1220.5"/><line x1="151" x2="188.5" y1="1275" y2="1275"/>
</g>

<!-- frequency bars -->
<g>
<rect x="298.7" y="1029.6" width="38" height="299.8" class="b"/>
<rect x="355.3" y="1029.6" width="38" height="299.8" class="b"/>
<rect x="412" y="1029.6" width="38" height="299.8" class="b"/>
<rect x="468.7" y="1029.6" width="38" height="299.8" class="b"/>
<path class="tk" fill="none" d="M298.7 1059.6h38M298.7 1089.6h38M298.7 1119.5h38M298.7 1149.5h38M298.7 1179.5h38M298.7 1209.5h38M298.7 1239.4h38M298.7 1269.4h38M298.7 1299.4h38
M355.3 1059.6h38M355.3 1089.6h38M355.3 1119.5h38M355.3 1149.5h38M355.3 1179.5h38M355.3 1209.5h38M355.3 1239.4h38M355.3 1269.4h38M355.3 1299.4h38
M412 1059.6h38M412 1089.6h38M412 1119.5h38M412 1149.5h38M412 1179.5h38M412 1209.5h38M412 1239.4h38M412 1269.4h38M412 1299.4h38
M468.7 1059.6h38M468.7 1089.6h38M468.7 1119.5h38M468.7 1149.5h38M468.7 1179.5h38M468.7 1209.5h38M468.7 1239.4h38M468.7 1269.4h38M468.7 1299.4h38"/>
<g fill="#ff4000">
<rect x="298.7" y="1247.6" width="38" height="11.2"/><rect x="293" y="1247.6" width="49" height="2.7"/><rect x="293" y="1256" width="49" height="2.7"/>
<rect x="350" y="1241" width="49.3" height="3"/>
<rect x="406.7" y="1241" width="49.3" height="3"/>
<rect x="468.7" y="1247.6" width="38" height="11.2"/><rect x="463" y="1247.6" width="49.7" height="2.7"/><rect x="463" y="1256" width="49.7" height="2.7"/>
</g>
</g>

<!-- text -->
<g font-size="33.3">
<text x="61" y="66.5">March, 24 2020</text>
<text x="61" y="95">0324:41 UT</text>
</g>
<text x="75" y="852" font-size="31.6">Velocity (m/s)</text>
<g font-size="25" text-anchor="end">
<text x="136" y="896">100</text><text x="136" y="950">75</text><text x="136" y="1003.5">50</text><text x="136" y="1058">25</text><text x="136" y="1112.7">0</text><text x="136" y="1167">-25</text><text x="136" y="1221">-50</text><text x="136" y="1275">-75</text><text x="136" y="1329">-100</text>
</g>
<g font-size="25">
<text x="202" y="916">toward</text><text x="202" y="1329">away</text><text x="202" y="1090">10</text><text x="202" y="1155">-10</text>
</g>
<text x="403" y="984.6" font-size="33" text-anchor="middle">Frequency</text>
<g font-size="30" text-anchor="middle">
<text x="318" y="1017.7">cvw</text><text x="374" y="1017.7">cve</text><text x="431" y="1017.7">fhw</text><text x="487" y="1017.7">fhe</text>
</g>
<g font-size="25" text-anchor="end">
<text x="292.5" y="1041.4">18</text><text x="292.5" y="1071.4">17</text><text x="292.5" y="1101.4">16</text><text x="292.5" y="1131.3">15</text><text x="292.5" y="1161.3">14</text><text x="292.5" y="1191.3">13</text><text x="292.5" y="1221.3">12</text><text x="292.5" y="1251.2">11</text><text x="292.5" y="1281.2">10</text><text x="292.5" y="1311.2">9</text><text x="292.5" y="1341">8</text>
</g>
<g font-size="25" text-anchor="middle">
<text x="529" y="1041.4">18</text><text x="529" y="1071.4">17</text><text x="529" y="1101.4">16</text><text x="529" y="1131.3">15</text><text x="529" y="1161.3">14</text><text x="529" y="1191.3">13</text><text x="529" y="1221.3">12</text><text x="529" y="1251.2">11</text><text x="529" y="1281.2">10</text><text x="529" y="1311.2">9</text><text x="529" y="1341">8</text>
</g>
<g font-size="33">
<text x="1002" y="1393">cvw</text><text x="1077" y="1393">cve</text>
</g>
<g font-size="32">
<text x="1659" y="1396.5">fhw</text><text x="1730" y="1396.5">fhe</text>
</g>
<text x="1077" y="1421" font-size="34" style="fill:#ff00ff">b11</text>
<text x="1664" y="1424.5" font-size="33" style="fill:#ff00ff">b12</text>
</svg>
</body></html>
